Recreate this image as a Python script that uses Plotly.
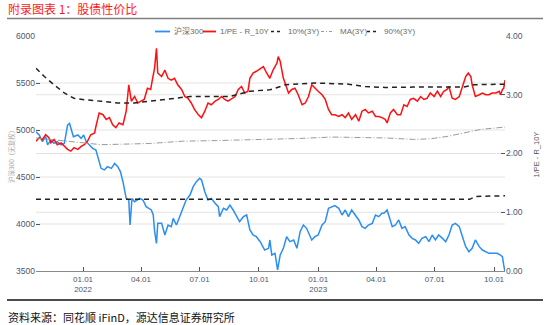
import plotly.graph_objects as go

# ---------------- data ----------------
hs300_dates = [
    "2021-10-20", "2021-10-25", "2021-10-30", "2021-11-04", "2021-11-07", "2021-11-12",
    "2021-11-17", "2021-11-22", "2021-11-28", "2021-12-03", "2021-12-08", "2021-12-11",
    "2021-12-14", "2021-12-17", "2021-12-24", "2021-12-29", "2022-01-02", "2022-01-06",
    "2022-01-11", "2022-01-16", "2022-01-21", "2022-01-24", "2022-01-29", "2022-02-03",
    "2022-02-08", "2022-02-14", "2022-02-19", "2022-02-24", "2022-02-28", "2022-03-04",
    "2022-03-09", "2022-03-13", "2022-03-15", "2022-03-18", "2022-03-22", "2022-03-30",
    "2022-04-04", "2022-04-09", "2022-04-14", "2022-04-17", "2022-04-20", "2022-04-22",
    "2022-04-25", "2022-04-27", "2022-05-03", "2022-05-08", "2022-05-13", "2022-05-18",
    "2022-05-21", "2022-05-26", "2022-05-31", "2022-06-05", "2022-06-10", "2022-06-16",
    "2022-06-21", "2022-06-26", "2022-07-01", "2022-07-04", "2022-07-09", "2022-07-14",
    "2022-07-19", "2022-07-25", "2022-07-30", "2022-08-01", "2022-08-07", "2022-08-12",
    "2022-08-17", "2022-08-22", "2022-08-27", "2022-09-01", "2022-09-07", "2022-09-12",
    "2022-09-17", "2022-09-22", "2022-09-27", "2022-10-03", "2022-10-10", "2022-10-16",
    "2022-10-18", "2022-10-21", "2022-10-26", "2022-10-30", "2022-11-03", "2022-11-08",
    "2022-11-13", "2022-11-18", "2022-11-24", "2022-11-29", "2022-12-04", "2022-12-09",
    "2022-12-14", "2022-12-19", "2022-12-22", "2022-12-27", "2023-01-01", "2023-01-07",
    "2023-01-12", "2023-01-17", "2023-01-22", "2023-01-27", "2023-02-02", "2023-02-07",
    "2023-02-12", "2023-02-17", "2023-02-22", "2023-02-28", "2023-03-05", "2023-03-10",
    "2023-03-15", "2023-03-20", "2023-03-26", "2023-03-31", "2023-04-05", "2023-04-10",
    "2023-04-13", "2023-04-18", "2023-04-21", "2023-04-26", "2023-05-01", "2023-05-06",
    "2023-05-11", "2023-05-16", "2023-05-22", "2023-05-27", "2023-06-01", "2023-06-06",
    "2023-06-11", "2023-06-17", "2023-06-22", "2023-06-27", "2023-07-02", "2023-07-07",
    "2023-07-13", "2023-07-18", "2023-07-23", "2023-07-28", "2023-08-02", "2023-08-08",
    "2023-08-13", "2023-08-18", "2023-08-23", "2023-08-28", "2023-09-02", "2023-09-08",
    "2023-09-13", "2023-09-18", "2023-09-23", "2023-09-28", "2023-10-06", "2023-10-11",
    "2023-10-14", "2023-10-16", "2023-10-18",
]
hs300_values = [
    4982, 4947, 4876, 4929, 4841, 4894,
    4858, 4876, 4841, 4858, 5053, 5071,
    5000, 4929, 4947, 4911, 4947, 4876,
    4841, 4805, 4787, 4716, 4592, 4575,
    4610, 4592, 4645, 4610, 4557, 4450,
    4273, 4255, 3989, 4273, 4237, 4273,
    4255, 4184, 4167, 4149, 4096, 3930,
    3794, 4007, 4007, 3883, 3989, 3972,
    4060, 3989, 4078, 4167, 4255, 4308,
    4397, 4450, 4486, 4468, 4344, 4255,
    4273, 4220, 4184, 4078, 4167, 4149,
    4202, 4149, 4078, 4025, 4078, 4096,
    3936, 3883, 3865, 3812, 3723, 3741,
    3830, 3670, 3688, 3511, 3670, 3741,
    3865, 3812, 3830, 3741, 3918, 3989,
    3954, 3883, 3830, 3865, 3883, 3989,
    4025, 4167, 4184, 4195, 4167, 4096,
    4149, 4078, 4149, 4096, 4043, 3972,
    3954, 3989, 4007, 4096, 4078, 4114,
    4114, 4149, 4078, 3972, 3989, 4043,
    3954, 3972, 3883, 3847, 3830, 3794,
    3847, 3865, 3812, 3883, 3830, 3883,
    3847, 3812, 3883, 3989, 4007, 3972,
    3865, 3759, 3705, 3741, 3830, 3759,
    3723, 3705, 3688, 3688, 3688, 3670,
    3652, 3564, 3493,
]

spread_dates = [
    "2021-10-20", "2021-10-25", "2021-10-30", "2021-11-04", "2021-11-09", "2021-11-12",
    "2021-11-17", "2021-11-22", "2021-11-28", "2021-12-03", "2021-12-08", "2021-12-13",
    "2021-12-18", "2021-12-24", "2021-12-29", "2022-01-03", "2022-01-08", "2022-01-13",
    "2022-01-19", "2022-01-21", "2022-01-26", "2022-02-01", "2022-02-06", "2022-02-11",
    "2022-02-16", "2022-02-21", "2022-02-26", "2022-03-04", "2022-03-09", "2022-03-13",
    "2022-03-17", "2022-03-22", "2022-03-27", "2022-04-01", "2022-04-06", "2022-04-11",
    "2022-04-16", "2022-04-19", "2022-04-22", "2022-04-25", "2022-04-27", "2022-05-03",
    "2022-05-08", "2022-05-13", "2022-05-18", "2022-05-23", "2022-05-28", "2022-06-03",
    "2022-06-08", "2022-06-13", "2022-06-18", "2022-06-23", "2022-06-29", "2022-07-04",
    "2022-07-09", "2022-07-14", "2022-07-19", "2022-07-25", "2022-07-30", "2022-08-04",
    "2022-08-09", "2022-08-14", "2022-08-20", "2022-08-25", "2022-08-30", "2022-09-04",
    "2022-09-09", "2022-09-14", "2022-09-17", "2022-09-22", "2022-09-27", "2022-10-03",
    "2022-10-08", "2022-10-13", "2022-10-18", "2022-10-23", "2022-10-29", "2022-10-31",
    "2022-11-03", "2022-11-08", "2022-11-11", "2022-11-16", "2022-11-21", "2022-11-26",
    "2022-12-01", "2022-12-07", "2022-12-12", "2022-12-17", "2022-12-22", "2022-12-27",
    "2023-01-01", "2023-01-07", "2023-01-12", "2023-01-17", "2023-01-22", "2023-01-27",
    "2023-02-02", "2023-02-07", "2023-02-12", "2023-02-17", "2023-02-22", "2023-02-28",
    "2023-03-05", "2023-03-10", "2023-03-15", "2023-03-20", "2023-03-26", "2023-03-31",
    "2023-04-05", "2023-04-10", "2023-04-15", "2023-04-18", "2023-04-23", "2023-04-28",
    "2023-05-04", "2023-05-09", "2023-05-14", "2023-05-19", "2023-05-24", "2023-05-29",
    "2023-06-04", "2023-06-09", "2023-06-14", "2023-06-19", "2023-06-24", "2023-06-30",
    "2023-07-05", "2023-07-10", "2023-07-15", "2023-07-20", "2023-07-23", "2023-07-28",
    "2023-08-02", "2023-08-08", "2023-08-13", "2023-08-18", "2023-08-22", "2023-08-26",
    "2023-08-28", "2023-09-02", "2023-09-08", "2023-09-13", "2023-09-18", "2023-09-23",
    "2023-09-28", "2023-10-04", "2023-10-09", "2023-10-11", "2023-10-14", "2023-10-16",
    "2023-10-18",
]
spread_values = [
    2.21, 2.27, 2.24, 2.32, 2.27, 2.18,
    2.24, 2.15, 2.18, 2.12, 2.07, 2.04,
    2.10, 2.07, 2.12, 2.15, 2.21, 2.32,
    2.35, 2.46, 2.69, 2.66, 2.58, 2.61,
    2.49, 2.44, 2.52, 2.49, 2.72, 3.17,
    2.89, 2.97, 2.86, 2.89, 2.92, 3.11,
    3.09, 3.28, 3.45, 3.79, 3.37, 3.31,
    3.42, 3.28, 3.25, 3.28, 3.17, 3.09,
    2.97, 2.94, 2.86, 2.75, 2.66, 2.61,
    2.72, 2.86, 2.83, 2.89, 2.92, 2.97,
    2.92, 2.89, 2.94, 2.97, 3.09, 3.14,
    3.03, 3.06, 3.28, 3.37, 3.40, 3.45,
    3.48, 3.37, 3.28, 3.42, 3.54, 3.65,
    3.57, 3.28, 3.17, 3.03, 3.09, 3.11,
    3.00, 2.83, 2.86, 2.97, 3.17, 3.11,
    3.06, 3.00, 2.92, 2.75, 2.66, 2.66,
    2.63, 2.66, 2.61, 2.69, 2.58, 2.66,
    2.55, 2.72, 2.75, 2.69, 2.72, 2.63,
    2.63, 2.61, 2.58, 2.52, 2.69, 2.75,
    2.66, 2.66, 2.83, 2.80, 2.92, 2.94,
    2.89, 2.97, 2.92, 2.94, 3.03, 2.97,
    3.06, 2.97, 3.06, 3.09, 3.14, 2.94,
    2.92, 2.97, 3.14, 3.31, 3.37, 3.31,
    3.17, 2.97, 3.00, 3.03, 3.00, 3.00,
    3.03, 3.03, 3.06, 3.00, 3.09, 3.11,
    3.25,
]

p90_dates = [
    "2021-10-20", "2021-11-02", "2021-11-17", "2021-12-03", "2021-12-18", "2022-01-03",
    "2022-01-29", "2022-02-24", "2022-03-22", "2022-04-22", "2022-05-15", "2022-06-16",
    "2022-07-17", "2022-08-17", "2022-09-17", "2022-10-18", "2022-10-26", "2022-11-11",
    "2022-12-27", "2023-02-17", "2023-03-15", "2023-04-15", "2023-05-29", "2023-08-15",
    "2023-08-31", "2023-10-18",
]
p90_values = [
    3.45, 3.31, 3.17, 3.03, 2.94, 2.915,
    2.89, 2.86, 2.86, 2.90, 2.94, 2.97,
    2.97, 2.97, 3.06, 3.085, 3.11, 3.17,
    3.20, 3.18, 3.14, 3.125, 3.13, 3.13,
    3.17, 3.18,
]

ma_dates = [
    "2021-10-20", "2021-12-08", "2022-01-29", "2022-04-14", "2022-06-05", "2022-07-27",
    "2022-10-18", "2022-12-01", "2023-01-22", "2023-04-15", "2023-05-29", "2023-06-24",
    "2023-07-20", "2023-08-15", "2023-09-10", "2023-10-18",
]
ma_values = [
    2.265, 2.21, 2.15, 2.17, 2.21, 2.22,
    2.24, 2.255, 2.28, 2.265, 2.24, 2.25,
    2.29, 2.35, 2.41, 2.45,
]

p10_dates = ["2021-10-20", "2023-08-24", "2023-09-03", "2023-10-18"]
p10_values = [1.22, 1.22, 1.27, 1.28]

x_tick_dates = ["2022-01-01", "2022-04-01", "2022-07-01", "2022-10-01",
                "2023-01-01", "2023-04-01", "2023-07-01", "2023-10-01"]
x_tick_labels = ["01.01<br>2022", "04.01", "07.01", "10.01",
                 "01.01<br>2023", "04.01", "07.01", "10.01"]
left_ticks = [3500, 4000, 4500, 5000, 5500, 6000]
right_ticks = [0, 1, 2, 3, 4]

series_names = ["沪深300", "1/PE - R_10Y", "10%(3Y)", "MA(3Y)", "90%(3Y)"]
left_title = "沪深300（无复权）"
right_title = "1/PE - R_10Y"

# ---------------- styling ----------------
W, H = 550, 325
ML, MR, MT, MB = 36, 45, 36, 54
PW, PH = W - ML - MR, H - MT - MB
FONT = "Liberation Sans, Arial, Noto Sans CJK SC, sans-serif"
CJK = "Noto Sans CJK SC, sans-serif"
TICK_COLOR = "#4a5670"
BLUE, RED = "#2b8ef3", "#ff1010"
DASH_COLOR, MA_COLOR = "#222222", "#9a9a9a"
DASH = "5px,4px"
DASHDOT = "6px,2px,1px,2px"


def px_x(px):
    return (px - ML) / PW


def px_y(py):
    return (H - MB - py) / PH


fig = go.Figure()
fig.add_trace(go.Scatter(x=hs300_dates, y=hs300_values, name=series_names[0], mode="lines",
                         line=dict(color=BLUE, width=1.5), yaxis="y"))
fig.add_trace(go.Scatter(x=spread_dates, y=spread_values, name=series_names[1], mode="lines",
                         line=dict(color=RED, width=1.5), yaxis="y2"))
fig.add_trace(go.Scatter(x=p10_dates, y=p10_values, name=series_names[2], mode="lines",
                         line=dict(color=DASH_COLOR, width=1.5, dash=DASH), yaxis="y2"))
fig.add_trace(go.Scatter(x=ma_dates, y=ma_values, name=series_names[3], mode="lines",
                         line=dict(color=MA_COLOR, width=1, dash=DASHDOT), yaxis="y2"))
fig.add_trace(go.Scatter(x=p90_dates, y=p90_values, name=series_names[4], mode="lines",
                         line=dict(color=DASH_COLOR, width=1.5, dash=DASH), yaxis="y2"))

shapes = []
# gridlines (left and right axes)
for v in left_ticks[1:-1]:
    shapes.append(dict(type="line", xref="paper", yref="y", x0=0, x1=1, y0=v, y1=v,
                       line=dict(color="#e3e3e3", width=1), layer="below"))
for v in right_ticks[1:-1]:
    shapes.append(dict(type="line", xref="paper", yref="y2", x0=0, x1=1, y0=v, y1=v,
                       line=dict(color="#e3e3e3", width=1), layer="below"))
# header / footer rules
shapes.append(dict(type="line", xref="paper", yref="paper", x0=px_x(7), x1=px_x(543),
                   y0=px_y(18.5), y1=px_y(18.5), line=dict(color="#7f7f7f", width=1.3)))
shapes.append(dict(type="line", xref="paper", yref="paper", x0=px_x(7), x1=px_x(543),
                   y0=px_y(300), y1=px_y(300), line=dict(color="#111111", width=1.3)))

# manual legend
legend_items = [
    (155, 170, 172, BLUE, "solid", 1.8),
    (203, 216, 218, RED, "solid", 1.8),
    (271, 283, 286, DASH_COLOR, "3px,3px", 1.5),
    (321, 334, 338, MA_COLOR, "3px,2px,1px,2px", 1.2),
    (367, 379, 382, DASH_COLOR, "3px,3px", 1.5),
]
annotations = []
LEG_Y = 31.5
for (x0, x1, xt, col, dsh, lw), name in zip(legend_items, series_names):
    shapes.append(dict(type="line", xref="paper", yref="paper", x0=px_x(x0), x1=px_x(x1),
                       y0=px_y(LEG_Y), y1=px_y(LEG_Y), line=dict(color=col, width=lw, dash=dsh)))
    annotations.append(dict(text=name, xref="paper", yref="paper", x=px_x(xt), y=px_y(LEG_Y),
                            xanchor="left", yanchor="middle", showarrow=False,
                            font=dict(size=8, color="#6b6b6b", family=FONT)))

annotations.append(dict(text="附录图表 1：股债性价比", xref="paper", yref="paper",
                        x=px_x(6), y=px_y(8.5), xanchor="left", yanchor="middle", showarrow=False,
                        font=dict(size=12, color="#ff1a1a", family=CJK)))
annotations.append(dict(text="资料来源：同花顺 iFinD，源达信息证券研究所", xref="paper", yref="paper",
                        x=px_x(6), y=px_y(316.5), xanchor="left", yanchor="middle", showarrow=False,
                        font=dict(size=11, color="#111111", family=CJK)))
# axis titles
annotations.append(dict(text=left_title, xref="paper", yref="paper", x=px_x(11), y=px_y(155),
                        xanchor="center", yanchor="middle", textangle=-90, showarrow=False,
                        font=dict(size=6.5, color="#a8a8a8", family=CJK)))
annotations.append(dict(text=right_title, xref="paper", yref="paper", x=px_x(535.5), y=px_y(155),
                        xanchor="center", yanchor="middle", textangle=-90, showarrow=False,
                        font=dict(size=7.5, color="#555555", family=FONT)))

fig.update_layout(
    width=W, height=H,
    margin=dict(l=ML, r=MR, t=MT, b=MB, pad=0),
    paper_bgcolor="white", plot_bgcolor="white",
    showlegend=False,
    font=dict(family=FONT, size=8.5, color=TICK_COLOR),
    xaxis=dict(
        type="date", range=["2021-10-20", "2023-10-18"],
        tickmode="array", tickvals=x_tick_dates, ticktext=x_tick_labels,
        ticks="inside", ticklen=4, tickcolor="#555555", tickwidth=1,
        showline=True, linecolor="#8a8a8a", linewidth=1.2,
        showgrid=False, zeroline=False,
        tickfont=dict(size=8, color=TICK_COLOR),
    ),
    yaxis=dict(
        range=[3500, 6000], tickmode="array", tickvals=left_ticks,
        ticks="inside", ticklen=4, tickcolor="#555555",
        showgrid=False, zeroline=False, showline=False,
        tickfont=dict(size=8.5, color=TICK_COLOR),
    ),
    yaxis2=dict(
        range=[0, 4], overlaying="y", side="right", tickmode="array", tickvals=right_ticks,
        tickformat=".2f", ticksuffix="%",
        ticks="inside", ticklen=4, tickcolor="#555555",
        showgrid=False, zeroline=False, showline=False,
        tickfont=dict(size=8.5, color=TICK_COLOR),
    ),
    shapes=shapes,
    annotations=annotations,
)

fig.write_html("out.html")
